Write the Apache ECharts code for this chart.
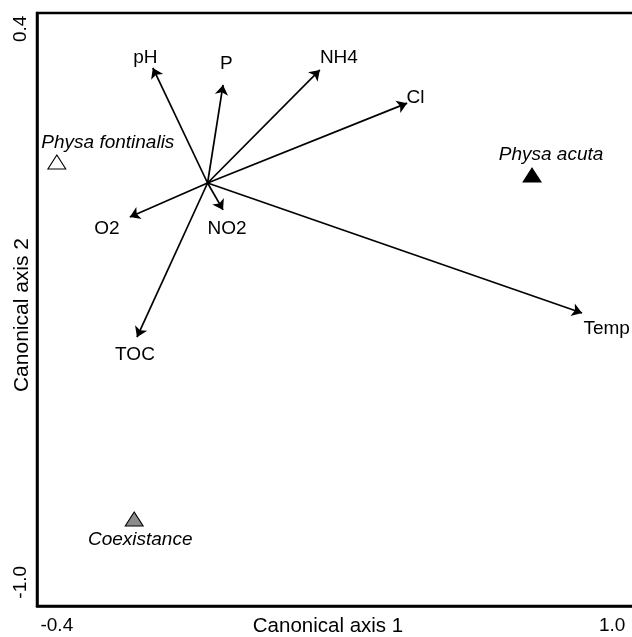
<!DOCTYPE html>
<html>
<head>
<meta charset="utf-8">
<script src="https://cdn.jsdelivr.net/npm/echarts@6/dist/echarts.min.js"></script>
<style>
  html, body { margin: 0; padding: 0; background: #fff; }
  #chart { width: 632px; height: 637px; }
</style>
</head>
<body>
<div id="chart"></div>
<script>
// environmental vectors (biplot arrows), all starting from the same origin
const origin = [-0.02, 0.01];
const vectorNames = ["pH", "P", "NH4", "Cl", "Temp", "O2", "NO2", "TOC"];
const vectorX = [-0.158, 0.019, 0.263, 0.483, 0.924, -0.216, 0.019, -0.198];
const vectorY = [0.301, 0.258, 0.296, 0.212, -0.319, -0.076, -0.058, -0.380];
// where each vector name is written
const vectorLabelX = [-0.177, 0.027, 0.311, 0.504, 0.986, -0.274, 0.029, -0.203];
const vectorLabelY = [0.326, 0.311, 0.326, 0.225, -0.359, -0.106, -0.106, -0.425];

// species groups
const groupNames = ["Physa fontinalis", "Physa acuta", "Coexistance"];
const groupX = [-0.400, 0.798, -0.205];
const groupY = [0.063, 0.030, -0.840];

const xTicks = [-0.4, 1.0];
const yTicks = [0.4, -1.0];

const font = "Liberation Sans, Arial, sans-serif";
const groupStyles = [
  { fill: "#ffffff", offset: [51, -19] },
  { fill: "#000000", offset: [19, -20] },
  { fill: "#8c8c8c", offset: [6, 21] },
];

const chart = echarts.init(document.getElementById("chart"), null, { renderer: "canvas" });

chart.setOption({
  animation: false,
  backgroundColor: "#fff",
  grid: {
    show: true,
    left: 37, right: -4, top: 13, bottom: 31,
    borderColor: "#000", borderWidth: 2.5,
    containLabel: false,
    outerBoundsMode: "none",
  },
  xAxis: {
    type: "value",
    min: -0.45, max: 1.06,
    name: "Canonical axis 1",
    nameLocation: "middle",
    nameGap: 20,
    nameMoveOverlap: false,
    nameTextStyle: {
      fontFamily: font, fontSize: 20.5, color: "#000",
      verticalAlign: "middle", padding: [0, 17, 0, 0],
    },
    axisLine: { show: true, onZero: false, lineStyle: { color: "#000", width: 2.5 } },
    axisTick: { show: false },
    splitLine: { show: false },
    axisLabel: {
      customValues: xTicks,
      formatter: (v) => v.toFixed(1),
      fontFamily: font, fontSize: 19, color: "#000", margin: 10,
    },
  },
  yAxis: {
    type: "value",
    min: -1.06, max: 0.44,
    name: "Canonical axis 2",
    nameLocation: "middle",
    nameRotate: 90,
    nameGap: 15,
    nameMoveOverlap: false,
    nameTextStyle: {
      fontFamily: font, fontSize: 21, color: "#000",
      verticalAlign: "middle", padding: [0, 11, 0, 0],
    },
    axisLine: { show: true, onZero: false, lineStyle: { color: "#000", width: 2.5 } },
    axisTick: { show: false },
    splitLine: { show: false },
    axisLabel: {
      customValues: yTicks,
      formatter: (v) => v.toFixed(1),
      rotate: 90,
      fontFamily: font, fontSize: 19, color: "#000", margin: 7,
    },
  },
  series: [
    {
      type: "lines",
      coordinateSystem: "cartesian2d",
      symbol: ["none", "arrow"],
      symbolSize: 10,
      lineStyle: { color: "#000", width: 1.7, opacity: 1 },
      data: vectorNames.map((n, i) => ({
        name: n,
        coords: [origin, [vectorX[i], vectorY[i]]],
      })),
      z: 3,
    },
    {
      type: "scatter",
      symbolSize: 0,
      silent: true,
      itemStyle: { opacity: 1 },
      label: {
        show: true,
        position: "inside",
        formatter: (p) => p.name,
        fontFamily: font, fontSize: 19, color: "#000",
      },
      data: vectorNames.map((n, i) => ({ name: n, value: [vectorLabelX[i], vectorLabelY[i]] })),
      z: 4,
    },
    {
      type: "scatter",
      symbol: "triangle",
      symbolSize: [18, 14],
      data: groupNames.map((n, i) => ({
        name: n,
        value: [groupX[i], groupY[i]],
        itemStyle: { color: groupStyles[i].fill, borderColor: "#000", borderWidth: 1, opacity: 1 },
        label: {
          show: true,
          formatter: n,
          position: "inside",
          offset: groupStyles[i].offset,
          fontFamily: font, fontSize: 19, fontStyle: "italic", color: "#000",
        },
      })),
      z: 5,
    },
  ],
});
</script>
</body>
</html>
